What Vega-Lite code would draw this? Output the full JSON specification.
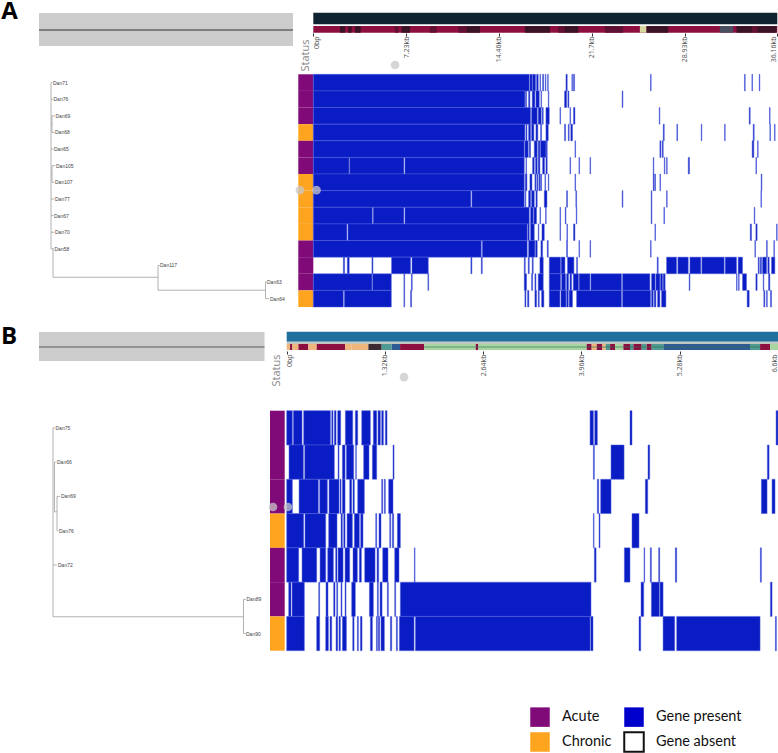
{
"$schema":"https://vega.github.io/schema/vega-lite/v6.json",
"width":778,"height":753,"padding":0,"autosize":"none","background":"white",
"view":{"stroke":null},
"config":{"axis":{"grid":false,"domain":false,"title":null,"labelOverlap":false,"labelBound":false,"labelFlush":false}},
"resolve":{"scale":{"x":"independent","y":"independent","color":"independent"},"axis":{"x":"independent","y":"independent"}},
"layer":[
{"data":{"values":[{"panel":"overview","start":-11,"end":243}]},"mark":{"type":"rect","fill":"#cccccc"},
 "encoding":{"x":{"field":"start","type":"quantitative","scale":{"domain":[0,250],"range":[50,300],"zero":false,"nice":false},"axis":null},"x2":{"field":"end"},
 "y":{"field":"panel","type":"nominal","scale":{"domain":["overview"],"range":[13,46],"paddingInner":0,"paddingOuter":0},"axis":null}}},
{"data":{"values":[{"panel":"overview","start":-11,"end":243}]},"mark":{"type":"rule","stroke":"#7f7f7f","strokeWidth":2},
 "encoding":{"x":{"field":"start","type":"quantitative","scale":{"domain":[0,250],"range":[50,300],"zero":false,"nice":false},"axis":null},"x2":{"field":"end"},
 "y":{"field":"panel","type":"nominal","scale":{"domain":["overview"],"range":[14,46],"paddingInner":0,"paddingOuter":0},"axis":null}}},
{"data":{"values":[{"panel":"overview","start":-14,"end":211.5}]},"mark":{"type":"rect","fill":"#cccccc"},
 "encoding":{"x":{"field":"start","type":"quantitative","scale":{"domain":[0,225],"range":[53,278],"zero":false,"nice":false},"axis":null},"x2":{"field":"end"},
 "y":{"field":"panel","type":"nominal","scale":{"domain":["overview"],"range":[332,361],"paddingInner":0,"paddingOuter":0},"axis":null}}},
{"data":{"values":[{"panel":"overview","start":-14,"end":211.5}]},"mark":{"type":"rule","stroke":"#7f7f7f","strokeWidth":1.5},
 "encoding":{"x":{"field":"start","type":"quantitative","scale":{"domain":[0,225],"range":[53,278],"zero":false,"nice":false},"axis":null},"x2":{"field":"end"},
 "y":{"field":"panel","type":"nominal","scale":{"domain":["overview"],"range":[333,361],"paddingInner":0,"paddingOuter":0},"axis":null}}},

{"data":{"values":[{"track":"contigs","start":0,"end":36.16}]},"mark":{"type":"rect","fill":"#0f2430"},
 "encoding":{"x":{"field":"start","type":"quantitative","scale":{"domain":[0,36.16],"range":[313.3,777.3],"zero":false,"nice":false},"axis":null},"x2":{"field":"end"},
 "y":{"field":"track","type":"nominal","scale":{"domain":["contigs"],"range":[12.7,24.3],"paddingInner":0,"paddingOuter":0},"axis":null}}},
{"data":{"values":[
{"track":"genes","start":0,"end":36.16,"feature":"base"},
{"track":"genes","start":2.08,"end":2.47,"feature":"dark"},{"track":"genes","start":2.73,"end":2.99,"feature":"dark"},{"track":"genes","start":3.25,"end":3.69,"feature":"dark"},
{"track":"genes","start":6.36,"end":6.62,"feature":"mid"},{"track":"genes","start":6.88,"end":7.53,"feature":"dark"},{"track":"genes","start":9.09,"end":9.61,"feature":"mid"},
{"track":"genes","start":11.3,"end":11.95,"feature":"mid"},{"track":"genes","start":11.95,"end":12.99,"feature":"dark"},
{"track":"genes","start":16.49,"end":18.44,"feature":"dark"},{"track":"genes","start":19.09,"end":19.6,"feature":"mid"},{"track":"genes","start":19.6,"end":20.65,"feature":"dark"},
{"track":"genes","start":22.72,"end":24.15,"feature":"mid"},{"track":"genes","start":25.45,"end":25.97,"feature":"pale"},{"track":"genes","start":25.97,"end":27.66,"feature":"dark"},
{"track":"genes","start":31.68,"end":32.72,"feature":"teal"},{"track":"genes","start":32.98,"end":34.2,"feature":"dark"},{"track":"genes","start":34.2,"end":34.6,"feature":"mid"},{"track":"genes","start":34.6,"end":36.1,"feature":"dark"}
]},"mark":{"type":"rect"},
 "encoding":{"x":{"field":"start","type":"quantitative","scale":{"domain":[0,36.16],"range":[313.3,777.3],"zero":false,"nice":false},
   "axis":{"orient":"bottom","offset":-720,"values":[0,7.23,14.46,21.7,28.93,36.16],"labelExpr":"datum.value==0?'0bp':datum.value+'kb'","labelAngle":270,"labelAlign":"right","labelBaseline":"middle","labelFontSize":7,"labelColor":"#555555","labelFont":"Open Sans","tickSize":3,"tickColor":"#333333","labelPadding":0,"labelOffset":{"expr":"datum.value==0?3:(datum.value>36?-3.5:0)"}}},"x2":{"field":"end"},
 "y":{"field":"track","type":"nominal","scale":{"domain":["genes"],"range":[26,32.7],"paddingInner":0,"paddingOuter":0},"axis":null},
 "color":{"field":"feature","type":"nominal","scale":{"domain":["base","dark","mid","pale","teal"],"range":["#8c0f40","#3a1426","#5f1033","#d9d7a0","#4a4f60"]},"legend":null}}},

{"data":{"values":[{"track":"contigs","start":0,"end":6.6}]},"mark":{"type":"rect","fill":"#1f6f9f"},
 "encoding":{"x":{"field":"start","type":"quantitative","scale":{"domain":[0,6.6],"range":[286.7,778],"zero":false,"nice":false},"axis":null},"x2":{"field":"end"},
 "y":{"field":"track","type":"nominal","scale":{"domain":["contigs"],"range":[331.7,341.7],"paddingInner":0,"paddingOuter":0},"axis":null}}},
{"data":{"values":[{"track":"spacer","start":0,"end":6.6}]},"mark":{"type":"rect","fill":"#c4c8c4"},
 "encoding":{"x":{"field":"start","type":"quantitative","scale":{"domain":[0,6.6],"range":[286.7,778],"zero":false,"nice":false},"axis":null},"x2":{"field":"end"},
 "y":{"field":"track","type":"nominal","scale":{"domain":["spacer"],"range":[341.7,344],"paddingInner":0,"paddingOuter":0},"axis":null}}},
{"data":{"values":[
{"track":"genes","start":0,"end":0.045,"feature":"tan"},{"track":"genes","start":0.045,"end":0.076,"feature":"crimson"},{"track":"genes","start":0.076,"end":0.157,"feature":"tan"},{"track":"genes","start":0.157,"end":0.291,"feature":"crimson"},{"track":"genes","start":0.291,"end":0.403,"feature":"tan"},{"track":"genes","start":0.403,"end":0.784,"feature":"crimson"},{"track":"genes","start":0.784,"end":0.873,"feature":"tan"},{"track":"genes","start":0.873,"end":1.097,"feature":"tan"},{"track":"genes","start":1.097,"end":1.276,"feature":"dark"},{"track":"genes","start":1.276,"end":1.411,"feature":"teal"},{"track":"genes","start":1.411,"end":1.523,"feature":"navy"},{"track":"genes","start":1.523,"end":1.849,"feature":"crimson"},{"track":"genes","start":1.849,"end":2.539,"feature":"green"},{"track":"genes","start":2.539,"end":2.575,"feature":"crimson"},{"track":"genes","start":2.575,"end":4.03,"feature":"green"},{"track":"genes","start":4.03,"end":4.097,"feature":"crimson"},{"track":"genes","start":4.097,"end":4.165,"feature":"tan"},{"track":"genes","start":4.165,"end":4.241,"feature":"crimson"},{"track":"genes","start":4.241,"end":4.285,"feature":"tan"},{"track":"genes","start":4.285,"end":4.344,"feature":"teal"},{"track":"genes","start":4.344,"end":4.411,"feature":"crimson"},{"track":"genes","start":4.411,"end":4.523,"feature":"green"},{"track":"genes","start":4.523,"end":4.612,"feature":"crimson"},{"track":"genes","start":4.612,"end":4.657,"feature":"teal"},{"track":"genes","start":4.657,"end":4.769,"feature":"crimson"},{"track":"genes","start":4.769,"end":4.836,"feature":"teal"},{"track":"genes","start":4.836,"end":4.903,"feature":"crimson"},{"track":"genes","start":4.903,"end":5.06,"feature":"teal"},{"track":"genes","start":5.06,"end":6.224,"feature":"navy"},{"track":"genes","start":6.224,"end":6.359,"feature":"teal"},{"track":"genes","start":6.359,"end":6.493,"feature":"crimson"},{"track":"genes","start":6.493,"end":6.6,"feature":"green"}
]},"mark":{"type":"rect"},
 "encoding":{"x":{"field":"start","type":"quantitative","scale":{"domain":[0,6.6],"range":[286.7,778],"zero":false,"nice":false},
   "axis":{"orient":"bottom","offset":-402,"values":[0,1.32,2.64,3.96,5.28,6.6],"labelExpr":"datum.value==0?'0bp':datum.value+'kb'","labelAngle":270,"labelAlign":"right","labelBaseline":"middle","labelFontSize":7,"labelColor":"#555555","labelFont":"Open Sans","tickSize":3,"tickColor":"#333333","labelPadding":0,"labelOffset":{"expr":"datum.value==0?2.5:(datum.value>6.5?-3.5:0)"}}},"x2":{"field":"end"},
 "y":{"field":"track","type":"nominal","scale":{"domain":["genes"],"range":[344,350],"paddingInner":0,"paddingOuter":0},"axis":null},
 "color":{"field":"feature","type":"nominal","scale":{"domain":["tan","crimson","dark","teal","navy","green"],"range":["#eeb67c","#8c0f40","#3d2a30","#4f9a92","#2f5b95","#a8d5a0"]},"legend":null}}},
{"data":{"values":[{"track":"genes","start":1.849,"end":6.36}]},"mark":{"type":"rule","stroke":"#2f6f50","strokeWidth":0.8,"opacity":0.8},
 "encoding":{"x":{"field":"start","type":"quantitative","scale":{"domain":[0,6.6],"range":[286.7,778],"zero":false,"nice":false},"axis":null},"x2":{"field":"end"},
 "y":{"field":"track","type":"nominal","scale":{"domain":["genes"],"range":[344,350],"paddingInner":0,"paddingOuter":0},"axis":null}}},

{"data":{"values":[
{"col":"Status","sample":"Dan71","status":"Acute"},{"col":"Status","sample":"Dan76","status":"Acute"},{"col":"Status","sample":"Dan69","status":"Acute"},{"col":"Status","sample":"Dan68","status":"Chronic"},{"col":"Status","sample":"Dan65","status":"Acute"},{"col":"Status","sample":"Dan105","status":"Acute"},{"col":"Status","sample":"Dan107","status":"Chronic"},{"col":"Status","sample":"Dan77","status":"Chronic"},{"col":"Status","sample":"Dan67","status":"Chronic"},{"col":"Status","sample":"Dan70","status":"Chronic"},{"col":"Status","sample":"Dan58","status":"Acute"},{"col":"Status","sample":"Dan117","status":"Acute"},{"col":"Status","sample":"Dan63","status":"Acute"},{"col":"Status","sample":"Dan64","status":"Chronic"}
]},"mark":{"type":"rect"},
 "encoding":{"x":{"field":"col","type":"nominal","scale":{"domain":["Status"],"range":[298.3,313.3],"paddingInner":0,"paddingOuter":0},
   "axis":{"orient":"bottom","offset":-716,"labelAngle":270,"labelAlign":"right","labelBaseline":"middle","labelFontSize":11,"labelFont":"Open Sans","labelColor":"#888888","ticks":false,"labelPadding":2}},
 "y":{"field":"sample","type":"nominal","scale":{"domain":["Dan71","Dan76","Dan69","Dan68","Dan65","Dan105","Dan107","Dan77","Dan67","Dan70","Dan58","Dan117","Dan63","Dan64"],"range":[74.3,307],"paddingInner":0,"paddingOuter":0},"axis":null},
 "color":{"field":"status","type":"nominal","scale":{"domain":["Acute","Chronic","Gene present","Gene absent"],"range":["#800a78","#ffa41f","#0000cd","#ffffff"]},
   "legend":{"title":null,"orient":"none","legendX":529,"legendY":706,"columns":2,"gridAlign":"each","symbolType":"square","symbolSize":380,"labelFont":"Lato","labelFontSize":14.5,"labelColor":"#111111","labelOffset":11,"rowPadding":-4,"columnPadding":8,"symbolStrokeWidth":2,
     "encode":{"symbols":{"update":{"stroke":{"signal":"datum.value==='Gene absent'?'#111111':'transparent'"},"strokeWidth":{"value":2}}}}}}}},

{"data":{"values":[
{"col":"Status","sample":"Dan75","status":"Acute"},{"col":"Status","sample":"Dan66","status":"Acute"},{"col":"Status","sample":"Dan69","status":"Acute"},{"col":"Status","sample":"Dan76","status":"Chronic"},{"col":"Status","sample":"Dan72","status":"Acute"},{"col":"Status","sample":"Dan89","status":"Acute"},{"col":"Status","sample":"Dan90","status":"Chronic"}
]},"mark":{"type":"rect"},
 "encoding":{"x":{"field":"col","type":"nominal","scale":{"domain":["Status"],"range":[270,284.7],"paddingInner":0,"paddingOuter":0},
   "axis":{"orient":"bottom","offset":-401,"labelAngle":270,"labelAlign":"right","labelBaseline":"middle","labelFontSize":11,"labelFont":"Open Sans","labelColor":"#888888","ticks":false,"labelPadding":2}},
 "y":{"field":"sample","type":"nominal","scale":{"domain":["Dan75","Dan66","Dan69","Dan76","Dan72","Dan89","Dan90"],"range":[410.7,650.7],"paddingInner":0,"paddingOuter":0},"axis":null},
 "color":{"field":"status","type":"nominal","scale":{"domain":["Acute","Chronic"],"range":["#800a78","#ffa41f"]},"legend":null}}},

{"data":{"values":[
{"sample":"Dan71","start":0,"end":16.83},{"sample":"Dan71","start":16.88,"end":17.06},{"sample":"Dan71","start":17.09,"end":17.32},{"sample":"Dan71","start":17.4,"end":17.53},{"sample":"Dan71","start":17.66,"end":17.71},{"sample":"Dan71","start":17.87,"end":17.95},{"sample":"Dan71","start":18.08,"end":18.13},{"sample":"Dan71","start":18.26,"end":18.31},{"sample":"Dan71","start":19.69,"end":19.79},{"sample":"Dan71","start":20.15,"end":20.2},{"sample":"Dan71","start":20.28,"end":20.36},{"sample":"Dan71","start":26.28,"end":26.33},{"sample":"Dan71","start":33.6,"end":33.66},{"sample":"Dan71","start":34.18,"end":34.23},{"sample":"Dan71","start":34.75,"end":34.8},
{"sample":"Dan76","start":0,"end":16.49},{"sample":"Dan76","start":16.54,"end":16.62},{"sample":"Dan76","start":16.78,"end":16.88},{"sample":"Dan76","start":17.06,"end":17.27},{"sample":"Dan76","start":17.35,"end":17.61},{"sample":"Dan76","start":17.74,"end":17.79},{"sample":"Dan76","start":18.31,"end":18.36},{"sample":"Dan76","start":19.58,"end":19.74},{"sample":"Dan76","start":19.84,"end":19.92},{"sample":"Dan76","start":24.07,"end":24.13},
{"sample":"Dan69","start":0,"end":16.93},{"sample":"Dan69","start":17.01,"end":17.45},{"sample":"Dan69","start":17.53,"end":17.76},{"sample":"Dan69","start":17.84,"end":17.92},{"sample":"Dan69","start":18.13,"end":18.39},{"sample":"Dan69","start":19.22,"end":19.27},{"sample":"Dan69","start":20,"end":20.05},{"sample":"Dan69","start":20.28,"end":20.39},{"sample":"Dan69","start":26.96,"end":27.01},{"sample":"Dan69","start":33.97,"end":34.05},{"sample":"Dan69","start":35.55,"end":35.6},
{"sample":"Dan68","start":0,"end":16.49},{"sample":"Dan68","start":16.57,"end":16.65},{"sample":"Dan68","start":16.78,"end":16.93},{"sample":"Dan68","start":17.01,"end":17.19},{"sample":"Dan68","start":17.35,"end":17.5},{"sample":"Dan68","start":17.71,"end":17.79},{"sample":"Dan68","start":18.13,"end":18.31},{"sample":"Dan68","start":19.58,"end":19.66},{"sample":"Dan68","start":19.87,"end":19.94},{"sample":"Dan68","start":20.07,"end":20.2},{"sample":"Dan68","start":27.27,"end":27.35},{"sample":"Dan68","start":28.33,"end":28.39},{"sample":"Dan68","start":30.23,"end":30.28},{"sample":"Dan68","start":32.05,"end":32.1},{"sample":"Dan68","start":34.28,"end":34.36},{"sample":"Dan68","start":35.58,"end":35.63},{"sample":"Dan68","start":35.94,"end":35.99},
{"sample":"Dan65","start":0,"end":16.44},{"sample":"Dan65","start":16.49,"end":16.75},{"sample":"Dan65","start":16.83,"end":16.93},{"sample":"Dan65","start":17.22,"end":17.45},{"sample":"Dan65","start":17.53,"end":17.66},{"sample":"Dan65","start":17.71,"end":18.13},{"sample":"Dan65","start":18.15,"end":18.23},{"sample":"Dan65","start":20.39,"end":20.44},{"sample":"Dan65","start":27.01,"end":27.09},{"sample":"Dan65","start":27.19,"end":27.27},{"sample":"Dan65","start":34.2,"end":34.33},{"sample":"Dan65","start":34.62,"end":34.67},
{"sample":"Dan105","start":0,"end":2.78},{"sample":"Dan105","start":2.83,"end":7.06},{"sample":"Dan105","start":7.14,"end":16.44},{"sample":"Dan105","start":16.57,"end":16.62},{"sample":"Dan105","start":17.09,"end":17.22},{"sample":"Dan105","start":17.32,"end":17.45},{"sample":"Dan105","start":17.53,"end":17.66},{"sample":"Dan105","start":17.87,"end":18.02},{"sample":"Dan105","start":18.13,"end":18.23},{"sample":"Dan105","start":20,"end":20.05},{"sample":"Dan105","start":20.7,"end":20.75},{"sample":"Dan105","start":21.56,"end":21.61},{"sample":"Dan105","start":26.49,"end":26.54},{"sample":"Dan105","start":27.35,"end":27.4},{"sample":"Dan105","start":27.53,"end":27.58},{"sample":"Dan105","start":29.22,"end":29.32},{"sample":"Dan105","start":34.49,"end":34.54},
{"sample":"Dan107","start":0,"end":16.44},{"sample":"Dan107","start":16.52,"end":16.65},{"sample":"Dan107","start":16.88,"end":17.04},{"sample":"Dan107","start":17.27,"end":17.35},{"sample":"Dan107","start":17.42,"end":17.5},{"sample":"Dan107","start":17.58,"end":17.66},{"sample":"Dan107","start":17.71,"end":17.79},{"sample":"Dan107","start":18.05,"end":18.1},{"sample":"Dan107","start":18.31,"end":18.36},{"sample":"Dan107","start":20.39,"end":20.44},{"sample":"Dan107","start":26.49,"end":26.57},{"sample":"Dan107","start":26.62,"end":26.67},{"sample":"Dan107","start":27.01,"end":27.06},{"sample":"Dan107","start":34.9,"end":34.96},
{"sample":"Dan77","start":0,"end":12.28},{"sample":"Dan77","start":12.36,"end":16.44},{"sample":"Dan77","start":16.52,"end":16.57},{"sample":"Dan77","start":16.78,"end":16.93},{"sample":"Dan77","start":17.01,"end":17.22},{"sample":"Dan77","start":17.35,"end":17.45},{"sample":"Dan77","start":18,"end":18.21},{"sample":"Dan77","start":19.74,"end":19.81},{"sample":"Dan77","start":20.46,"end":20.52},{"sample":"Dan77","start":24.07,"end":24.13},{"sample":"Dan77","start":26.33,"end":26.39},{"sample":"Dan77","start":27.53,"end":27.58},{"sample":"Dan77","start":34.88,"end":34.93},
{"sample":"Dan67","start":0,"end":4.6},{"sample":"Dan67","start":4.67,"end":7.06},{"sample":"Dan67","start":7.14,"end":16.83},{"sample":"Dan67","start":16.93,"end":17.14},{"sample":"Dan67","start":17.19,"end":17.4},{"sample":"Dan67","start":17.66,"end":17.71},{"sample":"Dan67","start":18.1,"end":18.15},{"sample":"Dan67","start":19.22,"end":19.27},{"sample":"Dan67","start":19.63,"end":19.69},{"sample":"Dan67","start":20.49,"end":20.54},{"sample":"Dan67","start":26.33,"end":26.39},{"sample":"Dan67","start":27.32,"end":27.37},{"sample":"Dan67","start":34.36,"end":34.41},
{"sample":"Dan70","start":0,"end":2.62},{"sample":"Dan70","start":2.7,"end":16.67},{"sample":"Dan70","start":16.72,"end":16.83},{"sample":"Dan70","start":16.93,"end":17.22},{"sample":"Dan70","start":17.53,"end":17.58},{"sample":"Dan70","start":17.82,"end":18},{"sample":"Dan70","start":19.22,"end":19.27},{"sample":"Dan70","start":19.76,"end":19.81},{"sample":"Dan70","start":20.28,"end":20.39},{"sample":"Dan70","start":26.62,"end":26.67},{"sample":"Dan70","start":34.05,"end":34.15},{"sample":"Dan70","start":34.49,"end":34.59},{"sample":"Dan70","start":36.1,"end":36.15},
{"sample":"Dan58","start":0,"end":13.09},{"sample":"Dan58","start":13.17,"end":16.67},{"sample":"Dan58","start":16.78,"end":17.27},{"sample":"Dan58","start":17.32,"end":17.45},{"sample":"Dan58","start":17.74,"end":17.87},{"sample":"Dan58","start":18.23,"end":18.31},{"sample":"Dan58","start":19.74,"end":19.81},{"sample":"Dan58","start":20.7,"end":20.75},{"sample":"Dan58","start":21.56,"end":21.61},{"sample":"Dan58","start":26.28,"end":26.33},{"sample":"Dan58","start":34.41,"end":34.46},{"sample":"Dan58","start":35.32,"end":35.38},{"sample":"Dan58","start":35.89,"end":35.94},
{"sample":"Dan117","start":2.34,"end":2.44},{"sample":"Dan117","start":2.65,"end":2.8},{"sample":"Dan117","start":4.57,"end":4.65},{"sample":"Dan117","start":6.1,"end":7.58},{"sample":"Dan117","start":7.69,"end":8.96},{"sample":"Dan117","start":12.28,"end":12.36},{"sample":"Dan117","start":13.09,"end":13.17},{"sample":"Dan117","start":16.44,"end":16.52},{"sample":"Dan117","start":16.75,"end":16.83},{"sample":"Dan117","start":17.06,"end":17.14},{"sample":"Dan117","start":17.66,"end":17.92},{"sample":"Dan117","start":18.39,"end":19.27},{"sample":"Dan117","start":19.32,"end":19.61},{"sample":"Dan117","start":19.81,"end":20.31},{"sample":"Dan117","start":20.52,"end":20.59},{"sample":"Dan117","start":26.8,"end":26.88},{"sample":"Dan117","start":27.53,"end":28.31},{"sample":"Dan117","start":28.41,"end":29.22},{"sample":"Dan117","start":29.35,"end":30.2},{"sample":"Dan117","start":30.28,"end":32.02},{"sample":"Dan117","start":32.1,"end":32.98},{"sample":"Dan117","start":33.11,"end":33.45},{"sample":"Dan117","start":34.67,"end":34.75},{"sample":"Dan117","start":34.83,"end":34.93},{"sample":"Dan117","start":35.01,"end":35.32},{"sample":"Dan117","start":35.42,"end":35.53},{"sample":"Dan117","start":35.71,"end":35.97},
{"sample":"Dan63","start":0,"end":4.57},{"sample":"Dan63","start":4.62,"end":6.08},{"sample":"Dan63","start":7.06,"end":7.12},{"sample":"Dan63","start":7.64,"end":7.71},{"sample":"Dan63","start":8.93,"end":8.99},{"sample":"Dan63","start":16.44,"end":16.62},{"sample":"Dan63","start":17.01,"end":17.09},{"sample":"Dan63","start":17.27,"end":17.35},{"sample":"Dan63","start":17.53,"end":17.92},{"sample":"Dan63","start":18.39,"end":19.27},{"sample":"Dan63","start":19.35,"end":19.66},{"sample":"Dan63","start":19.74,"end":19.89},{"sample":"Dan63","start":20,"end":20.13},{"sample":"Dan63","start":20.26,"end":20.67},{"sample":"Dan63","start":20.72,"end":21.56},{"sample":"Dan63","start":21.63,"end":24.02},{"sample":"Dan63","start":24.1,"end":26.23},{"sample":"Dan63","start":26.36,"end":26.64},{"sample":"Dan63","start":26.7,"end":27.01},{"sample":"Dan63","start":27.06,"end":27.22},{"sample":"Dan63","start":27.27,"end":27.42},{"sample":"Dan63","start":29.29,"end":29.35},{"sample":"Dan63","start":32.98,"end":33.03},{"sample":"Dan63","start":33.14,"end":33.19},{"sample":"Dan63","start":33.45,"end":33.76},{"sample":"Dan63","start":34.49,"end":34.59},{"sample":"Dan63","start":35.06,"end":35.11},{"sample":"Dan63","start":35.48,"end":35.58},
{"sample":"Dan64","start":0,"end":2.34},{"sample":"Dan64","start":2.42,"end":6.08},{"sample":"Dan64","start":7.06,"end":7.12},{"sample":"Dan64","start":7.58,"end":7.66},{"sample":"Dan64","start":16.49,"end":16.57},{"sample":"Dan64","start":16.7,"end":16.8},{"sample":"Dan64","start":17.27,"end":17.4},{"sample":"Dan64","start":17.53,"end":17.61},{"sample":"Dan64","start":17.79,"end":17.97},{"sample":"Dan64","start":18.39,"end":19.22},{"sample":"Dan64","start":19.3,"end":19.69},{"sample":"Dan64","start":19.74,"end":19.87},{"sample":"Dan64","start":19.94,"end":20.2},{"sample":"Dan64","start":20.52,"end":24.02},{"sample":"Dan64","start":24.1,"end":26.28},{"sample":"Dan64","start":26.36,"end":26.49},{"sample":"Dan64","start":26.57,"end":26.7},{"sample":"Dan64","start":26.83,"end":27.01},{"sample":"Dan64","start":27.14,"end":27.48},{"sample":"Dan64","start":33.81,"end":33.97},{"sample":"Dan64","start":35.11,"end":35.19},{"sample":"Dan64","start":35.32,"end":35.38},{"sample":"Dan64","start":35.63,"end":35.71}
]},"mark":{"type":"rect","fill":"#0a1cc4","stroke":"#5060dc","strokeWidth":0.5},
 "encoding":{"x":{"field":"start","type":"quantitative","scale":{"domain":[0,36.16],"range":[313.3,777.3],"zero":false,"nice":false},"axis":null},"x2":{"field":"end"},
 "y":{"field":"sample","type":"nominal","scale":{"domain":["Dan71","Dan76","Dan69","Dan68","Dan65","Dan105","Dan107","Dan77","Dan67","Dan70","Dan58","Dan117","Dan63","Dan64"],"range":[74.3,307],"paddingInner":0,"paddingOuter":0},"axis":null}}},

{"data":{"values":[
{"sample":"Dan75","start":0,"end":0.076},{"sample":"Dan75","start":0.09,"end":0.206},{"sample":"Dan75","start":0.228,"end":0.587},{"sample":"Dan75","start":0.605,"end":0.622},{"sample":"Dan75","start":0.64,"end":0.663},{"sample":"Dan75","start":0.685,"end":0.725},{"sample":"Dan75","start":0.788,"end":0.887},{"sample":"Dan75","start":0.922,"end":0.954},{"sample":"Dan75","start":1.008,"end":1.124},{"sample":"Dan75","start":1.164,"end":1.209},{"sample":"Dan75","start":1.227,"end":1.258},{"sample":"Dan75","start":1.276,"end":1.299},{"sample":"Dan75","start":1.325,"end":1.348},{"sample":"Dan75","start":4.075,"end":4.12},{"sample":"Dan75","start":4.138,"end":4.173},{"sample":"Dan75","start":4.612,"end":4.639},{"sample":"Dan75","start":6.574,"end":6.6},
{"sample":"Dan66","start":0.031,"end":0.224},{"sample":"Dan66","start":0.242,"end":0.64},{"sample":"Dan66","start":0.69,"end":0.703},{"sample":"Dan66","start":0.748,"end":0.784},{"sample":"Dan66","start":0.802,"end":0.9},{"sample":"Dan66","start":0.927,"end":0.936},{"sample":"Dan66","start":1.034,"end":1.106},{"sample":"Dan66","start":1.151,"end":1.209},{"sample":"Dan66","start":1.428,"end":1.442},{"sample":"Dan66","start":4.12,"end":4.133},{"sample":"Dan66","start":4.357,"end":4.532},{"sample":"Dan66","start":4.854,"end":4.877},{"sample":"Dan66","start":6.457,"end":6.48},
{"sample":"Dan69","start":0,"end":0.076},{"sample":"Dan69","start":0.166,"end":0.425},{"sample":"Dan69","start":0.443,"end":0.546},{"sample":"Dan69","start":0.569,"end":0.703},{"sample":"Dan69","start":0.716,"end":0.73},{"sample":"Dan69","start":0.748,"end":0.784},{"sample":"Dan69","start":0.846,"end":0.873},{"sample":"Dan69","start":0.891,"end":0.909},{"sample":"Dan69","start":0.954,"end":1.043},{"sample":"Dan69","start":1.276,"end":1.29},{"sample":"Dan69","start":1.312,"end":1.325},{"sample":"Dan69","start":1.37,"end":1.428},{"sample":"Dan69","start":4.173,"end":4.191},{"sample":"Dan69","start":4.218,"end":4.357},{"sample":"Dan69","start":4.818,"end":4.85},{"sample":"Dan69","start":6.377,"end":6.453},{"sample":"Dan69","start":6.52,"end":6.56},
{"sample":"Dan76","start":0,"end":0.228},{"sample":"Dan76","start":0.246,"end":0.524},{"sample":"Dan76","start":0.564,"end":0.676},{"sample":"Dan76","start":0.73,"end":0.748},{"sample":"Dan76","start":0.766,"end":0.784},{"sample":"Dan76","start":0.811,"end":0.882},{"sample":"Dan76","start":0.909,"end":0.976},{"sample":"Dan76","start":0.994,"end":1.025},{"sample":"Dan76","start":1.196,"end":1.209},{"sample":"Dan76","start":1.24,"end":1.267},{"sample":"Dan76","start":1.384,"end":1.397},{"sample":"Dan76","start":1.42,"end":1.437},{"sample":"Dan76","start":1.487,"end":1.527},{"sample":"Dan76","start":4.12,"end":4.129},{"sample":"Dan76","start":4.196,"end":4.209},{"sample":"Dan76","start":4.639,"end":4.733},
{"sample":"Dan72","start":0,"end":0.161},{"sample":"Dan72","start":0.206,"end":0.403},{"sample":"Dan72","start":0.448,"end":0.524},{"sample":"Dan72","start":0.551,"end":0.627},{"sample":"Dan72","start":0.658,"end":0.676},{"sample":"Dan72","start":0.69,"end":0.757},{"sample":"Dan72","start":0.784,"end":0.846},{"sample":"Dan72","start":0.891,"end":0.949},{"sample":"Dan72","start":0.976,"end":1.003},{"sample":"Dan72","start":1.048,"end":1.187},{"sample":"Dan72","start":1.214,"end":1.236},{"sample":"Dan72","start":1.29,"end":1.361},{"sample":"Dan72","start":1.451,"end":1.509},{"sample":"Dan72","start":1.715,"end":1.724},{"sample":"Dan72","start":4.133,"end":4.156},{"sample":"Dan72","start":4.536,"end":4.612},{"sample":"Dan72","start":4.8,"end":4.809},{"sample":"Dan72","start":4.885,"end":4.899},{"sample":"Dan72","start":4.997,"end":5.011},{"sample":"Dan72","start":5.221,"end":5.239},{"sample":"Dan72","start":6.363,"end":6.377},
{"sample":"Dan89","start":0.027,"end":0.058},{"sample":"Dan89","start":0.072,"end":0.237},{"sample":"Dan89","start":0.43,"end":0.443},{"sample":"Dan89","start":0.528,"end":0.555},{"sample":"Dan89","start":0.631,"end":0.649},{"sample":"Dan89","start":0.672,"end":0.685},{"sample":"Dan89","start":0.73,"end":0.743},{"sample":"Dan89","start":0.784,"end":0.797},{"sample":"Dan89","start":0.873,"end":0.922},{"sample":"Dan89","start":1.111,"end":1.164},{"sample":"Dan89","start":1.218,"end":1.231},{"sample":"Dan89","start":1.254,"end":1.281},{"sample":"Dan89","start":1.352,"end":1.366},{"sample":"Dan89","start":1.451,"end":1.464},{"sample":"Dan89","start":1.527,"end":4.088},{"sample":"Dan89","start":4.76,"end":4.796},{"sample":"Dan89","start":4.899,"end":5.006},{"sample":"Dan89","start":5.015,"end":5.056},{"sample":"Dan89","start":6.498,"end":6.52},
{"sample":"Dan90","start":0,"end":0.237},{"sample":"Dan90","start":0.403,"end":0.443},{"sample":"Dan90","start":0.524,"end":0.56},{"sample":"Dan90","start":0.582,"end":0.605},{"sample":"Dan90","start":0.663,"end":0.685},{"sample":"Dan90","start":0.703,"end":0.721},{"sample":"Dan90","start":0.748,"end":0.802},{"sample":"Dan90","start":0.887,"end":0.905},{"sample":"Dan90","start":0.949,"end":0.963},{"sample":"Dan90","start":0.99,"end":1.012},{"sample":"Dan90","start":1.124,"end":1.151},{"sample":"Dan90","start":1.205,"end":1.218},{"sample":"Dan90","start":1.231,"end":1.249},{"sample":"Dan90","start":1.267,"end":1.312},{"sample":"Dan90","start":1.393,"end":1.411},{"sample":"Dan90","start":1.473,"end":1.487},{"sample":"Dan90","start":1.514,"end":1.711},{"sample":"Dan90","start":1.729,"end":4.075},{"sample":"Dan90","start":4.084,"end":4.115},{"sample":"Dan90","start":4.733,"end":4.756},{"sample":"Dan90","start":5.056,"end":5.212},{"sample":"Dan90","start":5.239,"end":6.359},{"sample":"Dan90","start":6.565,"end":6.578}
]},"mark":{"type":"rect","fill":"#0a1cc4","stroke":"#5060dc","strokeWidth":0.5},
 "encoding":{"x":{"field":"start","type":"quantitative","scale":{"domain":[0,6.6],"range":[286.7,778],"zero":false,"nice":false},"axis":null},"x2":{"field":"end"},
 "y":{"field":"sample","type":"nominal","scale":{"domain":["Dan75","Dan66","Dan69","Dan76","Dan72","Dan89","Dan90"],"range":[410.7,650.7],"paddingInner":0,"paddingOuter":0},"axis":null}}},

{"data":{"values":[
{"x1":1,"x2":1,"y1":0,"y2":10},{"x1":1,"x2":2.5,"y1":0,"y2":0},{"x1":1,"x2":3,"y1":1,"y2":1},{"x1":1,"x2":2,"y1":2.5,"y2":2.5},{"x1":2,"x2":2,"y1":2,"y2":3},{"x1":2,"x2":5,"y1":2,"y2":2},{"x1":2,"x2":4.5,"y1":3,"y2":3},{"x1":1,"x2":3.5,"y1":4,"y2":4},{"x1":1,"x2":2,"y1":5.5,"y2":5.5},{"x1":2,"x2":2,"y1":5,"y2":6},{"x1":2,"x2":5.5,"y1":5,"y2":5},{"x1":2,"x2":4.5,"y1":6,"y2":6},{"x1":1,"x2":4.5,"y1":7,"y2":7},{"x1":1,"x2":3.5,"y1":8,"y2":8},{"x1":1,"x2":4.5,"y1":9,"y2":9},{"x1":1,"x2":4,"y1":10,"y2":10},{"x1":3,"x2":3,"y1":10,"y2":11.71},{"x1":3,"x2":108,"y1":11.71,"y2":11.71},{"x1":108,"x2":108,"y1":11,"y2":12.49},{"x1":108,"x2":110,"y1":11,"y2":11},{"x1":108,"x2":215.5,"y1":12.49,"y2":12.49},{"x1":215.5,"x2":215.5,"y1":12,"y2":13},{"x1":215.5,"x2":217,"y1":12,"y2":12},{"x1":215.5,"x2":219,"y1":13,"y2":13}
]},"mark":{"type":"rule","stroke":"#a0a0a0","strokeWidth":0.8},
 "encoding":{"x":{"field":"x1","type":"quantitative","scale":{"domain":[0,250],"range":[50,300],"zero":false,"nice":false},"axis":null},"x2":{"field":"x2"},
 "y":{"field":"y1","type":"quantitative","scale":{"domain":[-0.5,13.5],"range":[74.3,307],"zero":false,"nice":false},"axis":null},"y2":{"field":"y2"}}},
{"data":{"values":[
{"name":"Dan71","dist":3,"rank":0},{"name":"Dan76","dist":3.5,"rank":1},{"name":"Dan69","dist":5.5,"rank":2},{"name":"Dan68","dist":5,"rank":3},{"name":"Dan65","dist":4,"rank":4},{"name":"Dan105","dist":6,"rank":5},{"name":"Dan107","dist":5,"rank":6},{"name":"Dan77","dist":5,"rank":7},{"name":"Dan67","dist":4,"rank":8},{"name":"Dan70","dist":5,"rank":9},{"name":"Dan58","dist":4.5,"rank":10},{"name":"Dan117","dist":110,"rank":11},{"name":"Dan63","dist":217,"rank":12},{"name":"Dan64","dist":220,"rank":13}
]},"mark":{"type":"text","align":"left","baseline":"middle","fontSize":5,"font":"Liberation Sans","fill":"#444444"},
 "encoding":{"x":{"field":"dist","type":"quantitative","scale":{"domain":[0,250],"range":[50,300],"zero":false,"nice":false},"axis":null},
 "y":{"field":"rank","type":"quantitative","scale":{"domain":[-0.5,13.5],"range":[74.3,307],"zero":false,"nice":false},"axis":null},"text":{"field":"name"}}},

{"data":{"values":[
{"x1":0,"x2":0,"y1":0,"y2":5.51},{"x1":0,"x2":2,"y1":0,"y2":0},{"x1":1.5,"x2":1.5,"y1":1,"y2":2.45},{"x1":1.5,"x2":3.5,"y1":1,"y2":1},{"x1":1.5,"x2":4,"y1":2.45,"y2":2.45},{"x1":4,"x2":4,"y1":2,"y2":3},{"x1":4,"x2":7,"y1":2,"y2":2},{"x1":4,"x2":5.5,"y1":3,"y2":3},{"x1":0,"x2":4,"y1":4,"y2":4},{"x1":0,"x2":190.5,"y1":5.51,"y2":5.51},{"x1":190.5,"x2":190.5,"y1":5,"y2":6},{"x1":190.5,"x2":193,"y1":5,"y2":5},{"x1":190.5,"x2":193,"y1":6,"y2":6}
]},"mark":{"type":"rule","stroke":"#a0a0a0","strokeWidth":0.8},
 "encoding":{"x":{"field":"x1","type":"quantitative","scale":{"domain":[0,225],"range":[53,278],"zero":false,"nice":false},"axis":null},"x2":{"field":"x2"},
 "y":{"field":"y1","type":"quantitative","scale":{"domain":[-0.5,6.5],"range":[410.7,650.7],"zero":false,"nice":false},"axis":null},"y2":{"field":"y2"}}},
{"data":{"values":[
{"name":"Dan75","dist":2.5,"rank":0},{"name":"Dan66","dist":4,"rank":1},{"name":"Dan69","dist":8,"rank":2},{"name":"Dan76","dist":6,"rank":3},{"name":"Dan72","dist":5,"rank":4},{"name":"Dan89","dist":193.5,"rank":5},{"name":"Dan90","dist":193,"rank":6}
]},"mark":{"type":"text","align":"left","baseline":"middle","fontSize":5,"font":"Liberation Sans","fill":"#444444"},
 "encoding":{"x":{"field":"dist","type":"quantitative","scale":{"domain":[0,225],"range":[53,278],"zero":false,"nice":false},"axis":null},
 "y":{"field":"rank","type":"quantitative","scale":{"domain":[-0.5,6.5],"range":[410.7,650.7],"zero":false,"nice":false},"axis":null},"text":{"field":"name"}}},

{"data":{"values":[{"kb":6.37,"rank":-1.06},{"kb":-1.04,"rank":6.47},{"kb":0.25,"rank":6.47}]},"mark":{"type":"point","filled":true,"fill":"#c8c8c8","opacity":0.75,"size":75},
 "encoding":{"x":{"field":"kb","type":"quantitative","scale":{"domain":[0,36.16],"range":[313.3,777.3],"zero":false,"nice":false},"axis":null},
 "y":{"field":"rank","type":"quantitative","scale":{"domain":[-0.5,13.5],"range":[74.3,307],"zero":false,"nice":false},"axis":null}}},
{"data":{"values":[{"kb":1.576,"rank":-1.48},{"kb":-0.184,"rank":2.31},{"kb":0.017,"rank":2.31}]},"mark":{"type":"point","filled":true,"fill":"#c8c8c8","opacity":0.75,"size":75},
 "encoding":{"x":{"field":"kb","type":"quantitative","scale":{"domain":[0,6.6],"range":[286.7,778],"zero":false,"nice":false},"axis":null},
 "y":{"field":"rank","type":"quantitative","scale":{"domain":[-0.5,6.5],"range":[410.7,650.7],"zero":false,"nice":false},"axis":null}}},

{"data":{"values":[{"panel":"A","dist":-40.5,"rank":-4.22}]},"mark":{"type":"text","font":"Open Sans","fontWeight":"bold","fontSize":24,"align":"center","baseline":"middle","fill":"#000000"},
 "encoding":{"x":{"field":"dist","type":"quantitative","scale":{"domain":[0,250],"range":[50,300],"zero":false,"nice":false},"axis":null},
 "y":{"field":"rank","type":"quantitative","scale":{"domain":[-0.5,13.5],"range":[74.3,307],"zero":false,"nice":false},"axis":null},"text":{"field":"panel"}}},
{"data":{"values":[{"panel":"B","dist":-44,"rank":-2.65}]},"mark":{"type":"text","font":"Open Sans","fontWeight":"bold","fontSize":24,"align":"center","baseline":"middle","fill":"#000000"},
 "encoding":{"x":{"field":"dist","type":"quantitative","scale":{"domain":[0,225],"range":[53,278],"zero":false,"nice":false},"axis":null},
 "y":{"field":"rank","type":"quantitative","scale":{"domain":[-0.5,6.5],"range":[410.7,650.7],"zero":false,"nice":false},"axis":null},"text":{"field":"panel"}}}
]}
